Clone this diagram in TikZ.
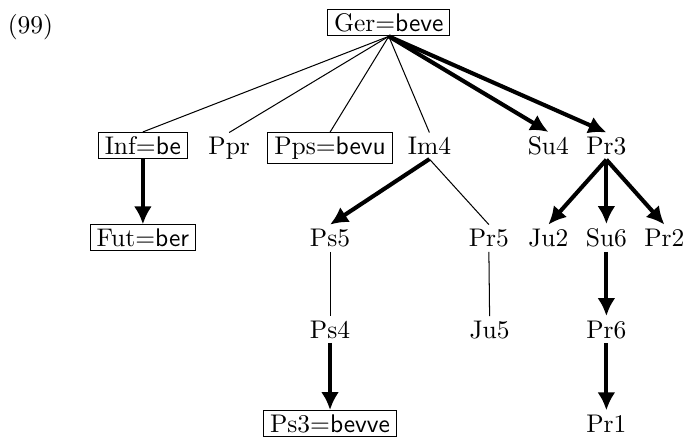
\documentclass[tikz,border=0pt]{standalone}
\usetikzlibrary{arrows.meta}
\begin{document}
\begin{tikzpicture}[every node/.style={anchor=base, inner xsep=2.5pt, inner ysep=1.6pt},
		box/.style={draw},
		strong/.style={line width=1.6pt, -{Latex[length=7pt,width=7pt]}}]
	\useasboundingbox (0,0) rectangle (9.43,6.03);
	\node[anchor=base west, inner sep=0pt] (ex) at (0.1,5.57) {(99)};
	\node[box] (ger) at (5.36,5.60) {Ger$=$\textsf{beve}};
	% second row
	\node[box] (inf) at (1.97,3.90) {Inf$=$\textsf{be}};
	\node (ppr) at (3.16,3.90) {Ppr};
	\node[box] (pps) at (4.55,3.90) {Pps$=$\textsf{bevu}};
	\node (im4) at (5.92,3.90) {Im4};
	\node (su4) at (7.56,3.90) {Su4};
	\node (pr3) at (8.36,3.90) {Pr3};
	% third row
	\node[box] (fut) at (1.97,2.63) {Fut$=$\textsf{ber}};
	\node (ps5) at (4.55,2.63) {Ps5};
	\node (pr5) at (6.74,2.63) {Pr5};
	\node (ju2) at (7.56,2.63) {Ju2};
	\node (su6) at (8.36,2.63) {Su6};
	\node (pr2) at (9.16,2.63) {Pr2};
	% lower rows
	\node (ps4) at (4.55,1.37) {Ps4};
	\node (ju5) at (6.75,1.37) {Ju5};
	\node (pr6) at (8.36,1.37) {Pr6};
	\node[box] (ps3) at (4.55,0.07) {Ps3$=$\textsf{bevve}};
	\node (pr1) at (8.36,0.07) {Pr1};

	\draw (ger.south) -- (inf.north);
	\draw (ger.south) -- (ppr.north);
	\draw (ger.south) -- (pps.north);
	\draw (ger.south) -- (im4.north);
	\draw[strong] (ger.south) -- (su4.north);
	\draw[strong] (ger.south) -- (pr3.north);
	\draw[strong] (inf.south) -- (fut.north);
	\draw[strong] (im4.south) -- (ps5.north);
	\draw (im4.south) -- (pr5.north);
	\draw[strong] (pr3.south) -- (ju2.north);
	\draw[strong] (pr3.south) -- (su6.north);
	\draw[strong] (pr3.south) -- (pr2.north);
	\draw (ps5.south) -- (ps4.north);
	\draw (pr5.south) -- (ju5.north);
	\draw[strong] (su6.south) -- (pr6.north);
	\draw[strong] (ps4.south) -- (ps3.north);
	\draw[strong] (pr6.south) -- (pr1.north);
\end{tikzpicture}
\end{document}
